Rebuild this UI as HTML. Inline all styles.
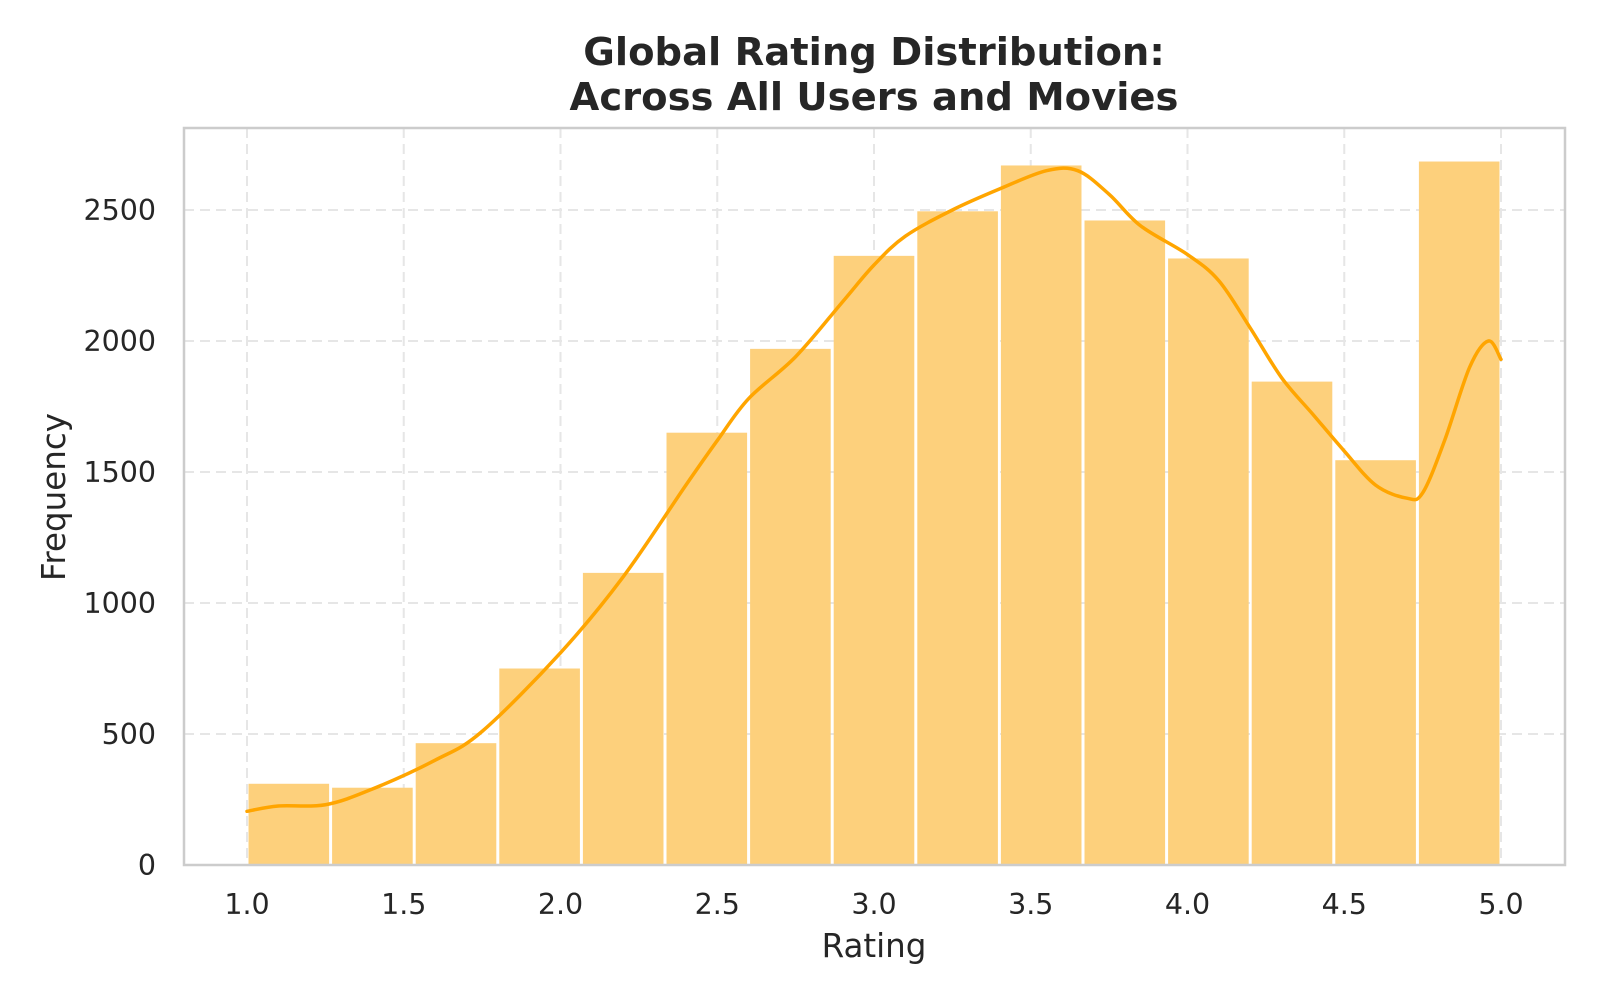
<!DOCTYPE html>
<html><head><meta charset="utf-8"><style>
body{margin:0;background:#fff;}
svg text{font-family:"DejaVu Sans","Liberation Sans",sans-serif;fill:#262626;}
</style></head><body>
<svg id="chart" width="1600" height="1000" xmlns="http://www.w3.org/2000/svg">
<text x="874" y="65" text-anchor="middle" font-size="38.5" font-weight="bold">Global Rating Distribution:</text>
<text x="874" y="110" text-anchor="middle" font-size="38.5" font-weight="bold">Across All Users and Movies</text>
<g id="grid"></g><g id="bars"></g><g id="kde"></g><g id="axes"></g>
<text x="874" y="957" text-anchor="middle" font-size="32.5">Rating</text>
<text transform="translate(65,497) rotate(-90)" text-anchor="middle" font-size="32.5">Frequency</text>
</svg>
<script>
const binCounts=[310,295,465,750,1115,1650,1970,2325,2495,2670,2460,2315,1845,1545,2685];
const binStart=1.0, binEnd=5.0;
const kdeX=[1.0,1.1,1.25,1.4,1.6,1.75,2.0,2.2,2.4,2.5,2.6,2.75,2.9,3.0,3.1,3.25,3.4,3.55,3.65,3.75,3.85,4.0,4.1,4.2,4.3,4.4,4.5,4.6,4.7,4.75,4.82,4.9,4.96,5.0];
const kdeY=[205,225,230,290,400,510,810,1100,1450,1620,1780,1940,2150,2290,2400,2500,2580,2650,2650,2560,2440,2330,2230,2050,1860,1720,1580,1450,1400,1420,1620,1900,2000,1930];
const xTicks=[1.0,1.5,2.0,2.5,3.0,3.5,4.0,4.5,5.0];
const yTicks=[0,500,1000,1500,2000,2500];
const L=184,R=1565,T=128,B=865;
const X=v=>247+(v-1)*313.5;
const Y=v=>865-v*0.262;
const NS="http://www.w3.org/2000/svg";
function mk(t,a,p){const e=document.createElementNS(NS,t);for(const k in a)e.setAttribute(k,a[k]);p.appendChild(e);return e;}
const grid=document.getElementById('grid'),bars=document.getElementById('bars'),kde=document.getElementById('kde'),axes=document.getElementById('axes');
xTicks.forEach(v=>{
 const g=mk('line',{x1:X(v),x2:X(v),y1:T,y2:B,stroke:'#e6e6e6','stroke-width':2,'stroke-dasharray':'10,6'},grid);
 
 
 const t=mk('text',{x:X(v),y:B+49,'text-anchor':'middle','font-size':28.5},axes);t.textContent=v.toFixed(1);
 
 
});
yTicks.forEach(v=>{
 const g=mk('line',{x1:L,x2:R,y1:Y(v),y2:Y(v),stroke:'#e6e6e6','stroke-width':2,'stroke-dasharray':'10,6'},grid);
 
 
 const t=mk('text',{x:L-28,y:Y(v)+10,'text-anchor':'end','font-size':28.5},axes);t.textContent=v;
 
 
});
const w=(binEnd-binStart)/binCounts.length;
binCounts.forEach((c,i)=>{
 const x0=X(binStart+i*w),x1=X(binStart+(i+1)*w);
 const r=mk('rect',{x:x0+1.5,y:Y(c),width:x1-x0-3,height:Y(0)-Y(c),fill:'#fdd07c'},bars);
 
 
});
const pts=kdeX.map((v,i)=>[X(v),Y(kdeY[i])]);
let d='M'+pts[0][0]+','+pts[0][1];
for(let i=0;i<pts.length-1;i++){
 const p0=pts[Math.max(0,i-1)],p1=pts[i],p2=pts[i+1],p3=pts[Math.min(pts.length-1,i+2)];
 const c1=[p1[0]+(p2[0]-p0[0])/6,p1[1]+(p2[1]-p0[1])/6],c2=[p2[0]-(p3[0]-p1[0])/6,p2[1]-(p3[1]-p1[1])/6];
 d+=' C'+c1.join(',')+' '+c2.join(',')+' '+p2.join(',');
}
const p=mk('path',{d:d,fill:'none',stroke:'#ffa500','stroke-width':3.5,'stroke-linejoin':'round','stroke-linecap':'round'},kde);


const f=mk('rect',{x:L,y:T,width:R-L,height:B-T,fill:'none',stroke:'#cccccc','stroke-width':2.5},axes);


</script>
</body></html>
